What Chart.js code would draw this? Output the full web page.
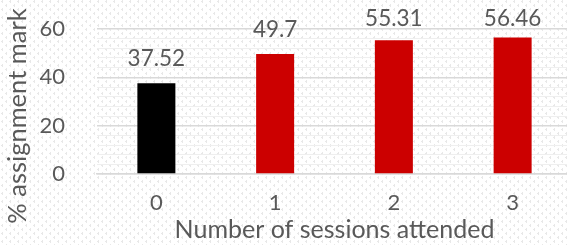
<!DOCTYPE html>
<html lang="en">
<head>
  <meta charset="UTF-8">
  <title>Assignment mark by sessions attended</title>
  <script src="https://cdn.jsdelivr.net/npm/chart.js"></script>
  <style>
    html, body { margin: 0; padding: 0; overflow: hidden; background: #fff; }
    #wrap { width: 572px; height: 245px; }
  </style>
</head>
<body>
  <div id="wrap"><canvas id="marksChart"></canvas></div>

  <script>
    // Data
    const sessions = ['0', '1', '2', '3'];
    const marks = [37.52, 49.7, 55.31, 56.46];
    const barColors = ['#000000', '#cc0000', '#cc0000', '#cc0000'];
    const yTicks = [0, 20, 40, 60];
    const yTitle = '% assignment mark';

    const textColor = '#595959';
    const fontFamily = 'Lato, "Open Sans", sans-serif';

    // faint dotted paper background
    const bgPattern = {
      id: 'bgPattern',
      beforeDraw(chart) {
        const tile = document.createElement('canvas');
        tile.width = 8; tile.height = 8;
        const t = tile.getContext('2d');
        t.fillStyle = '#e8e8e8';
        t.fillRect(1, 1, 2, 1);
        t.fillRect(2, 0, 1, 3);
        t.fillRect(5, 5, 2, 1);
        t.fillRect(6, 4, 1, 3);
        const ctx = chart.ctx;
        ctx.save();
        ctx.fillStyle = '#ffffff';
        ctx.fillRect(0, 0, chart.width, chart.height);
        ctx.fillStyle = ctx.createPattern(tile, 'repeat');
        ctx.fillRect(0, 0, chart.width, chart.height);
        ctx.restore();
      }
    };

    // value labels above bars + rotated y title (Excel centres it a bit lower)
    const valueLabels = {
      id: 'valueLabels',
      afterDatasetsDraw(chart) {
        const ctx = chart.ctx;
        const meta = chart.getDatasetMeta(0);
        ctx.save();
        ctx.font = '22.5px ' + fontFamily;
        ctx.fillStyle = textColor;
        ctx.textAlign = 'center';
        ctx.textBaseline = 'alphabetic';
        meta.data.forEach((bar, i) => {
          const y = Math.max(bar.y - 17, 26);
          ctx.fillText(String(marks[i]), bar.x, y);
        });

        ctx.translate(18, 116);
        ctx.rotate(-Math.PI / 2);
        ctx.font = '25.5px ' + fontFamily;
        ctx.textBaseline = 'middle';
        ctx.fillText(yTitle, 0, 0);
        ctx.restore();
      }
    };

    new Chart(document.getElementById('marksChart').getContext('2d'), {
      type: 'bar',
      data: {
        labels: sessions,
        datasets: [{
          data: marks,
          backgroundColor: barColors,
          barPercentage: 0.32,
          categoryPercentage: 1
        }]
      },
      options: {
        responsive: true,
        maintainAspectRatio: false,
        animation: false,
        layout: { padding: { top: 29, right: 0, left: 0, bottom: 0 } },
        plugins: { legend: { display: false }, tooltip: { enabled: false } },
        scales: {
          x: {
            grid: { display: false, drawTicks: false },
            border: { color: '#d9d9d9', width: 1.5 },
            ticks: { color: textColor, font: { family: fontFamily, size: 22 }, padding: 16 },
            title: {
              display: true,
              text: 'Number of sessions attended',
              color: textColor,
              font: { family: fontFamily, size: 25 },
              padding: { top: 0, bottom: 0 }
            },
            afterFit(scale) { scale.height = 71; }
          },
          y: {
            min: 0,
            max: 60,
            border: { display: false },
            grid: {
              drawTicks: false,
              color: ctx => yTicks.includes(ctx.tick.value) ? '#d9d9d9' : '#efefef',
              lineWidth: ctx => yTicks.includes(ctx.tick.value) ? 1.5 : 1
            },
            ticks: {
              stepSize: 4,
              autoSkip: false,
              padding: 32,
              color: textColor,
              font: { family: fontFamily, size: 22 },
              callback: v => yTicks.includes(v) ? String(v) : ''
            },
            afterFit(scale) {
              scale.width = 97;
              // tick padding would otherwise push the plot top down
              scale.paddingTop = 0;
              scale.paddingBottom = 0;
            }
          }
        }
      },
      plugins: [bgPattern, valueLabels]
    });
  </script>
</body>
</html>
